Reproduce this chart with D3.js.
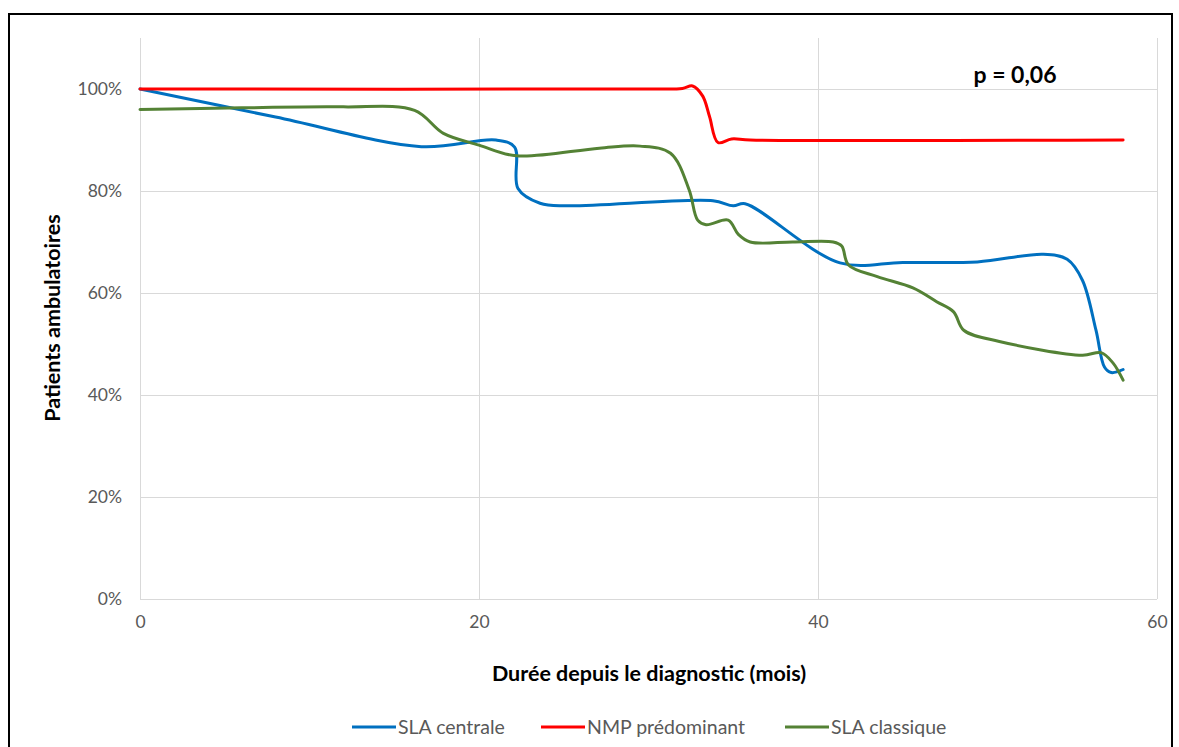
<!DOCTYPE html>
<html><head><meta charset="utf-8">
<script src="https://cdn.jsdelivr.net/npm/d3@7"></script>
<style>body{margin:0;background:#fff}svg{display:block;font-family:Lato,"Open Sans",sans-serif}</style>
</head><body><svg id="c" width="1179" height="747"></svg>
<script>
const seriesNames = ["SLA centrale", "NMP prédominant", "SLA classique"];
const seriesColors = ["#0070C0", "#FF0000", "#548235"];
const xTicks = [0, 20, 40, 60];
const yTicks = [0, 0.2, 0.4, 0.6, 0.8, 1.0];
const pLabel = "p = 0,06";
const xTitle = "Durée depuis le diagnostic (mois)";
const yTitle = "Patients ambulatoires";

const slaCentraleX = [0, 8, 16.6, 21, 22.1, 22.3, 23.6, 25.2, 33.8, 35, 35.7, 41.3, 45, 49.4, 53.3, 54.7, 55.6, 56.4, 56.9, 57.3, 58];
const slaCentraleY = [1.00, 0.945, 0.887, 0.90, 0.886, 0.805, 0.776, 0.771, 0.781, 0.771, 0.775, 0.659, 0.66, 0.661, 0.676, 0.666, 0.625, 0.527, 0.455, 0.444, 0.45];

const nmpX = [0, 30, 32, 32.6, 33.2, 33.6, 34.1, 34.9, 36, 58];
const nmpY = [1.00, 1.00, 1.001, 1.006, 0.986, 0.946, 0.895, 0.902, 0.90, 0.90];

const slaClassiqueX = [0, 6, 12, 16.2, 17.9, 20, 22.2, 27.1, 29.5, 31.3, 32.4, 32.9, 33.4, 34.7, 35.3, 36, 38.5, 40.9, 41.4, 41.8, 43.5, 45.6, 47, 48, 48.6, 50.7, 55.6, 56.7, 57.4, 58];
const slaClassiqueY = [0.96, 0.963, 0.965, 0.958, 0.913, 0.89, 0.869, 0.884, 0.888, 0.874, 0.802, 0.743, 0.734, 0.743, 0.715, 0.70, 0.70, 0.70, 0.692, 0.655, 0.632, 0.61, 0.583, 0.563, 0.527, 0.505, 0.478, 0.483, 0.463, 0.429];

const seriesX = [slaCentraleX, nmpX, slaClassiqueX];
const seriesY = [slaCentraleY, nmpY, slaClassiqueY];

const svg = d3.select("#c");
svg.append("rect").attr("x", 9).attr("y", 14).attr("width", 1163).attr("height", 760)
  .attr("fill", "none").attr("stroke", "#000").attr("stroke-width", 2);

const L = 140, R = 1157, T = 38, B = 599;
const x = d3.scaleLinear().domain([0, 60]).range([L, R]);
const y = d3.scaleLinear().domain([0, 1.1]).range([B, T]);

const g = svg.append("g");
g.selectAll(".hg").data(yTicks).join("line")
  .attr("x1", L).attr("x2", R).attr("y1", d => Math.round(y(d)) + 0.5).attr("y2", d => Math.round(y(d)) + 0.5)
  .attr("stroke", "#d9d9d9").attr("stroke-width", 1);
g.selectAll(".vg").data(xTicks).join("line")
  .attr("y1", T).attr("y2", B).attr("x1", d => Math.round(x(d)) + 0.5).attr("x2", d => Math.round(x(d)) + 0.5)
  .attr("stroke", "#d9d9d9").attr("stroke-width", 1);

const fmtPct = d3.format(".0%");
const yAxis = d3.axisLeft(y).tickValues(yTicks).tickFormat(fmtPct).tickSize(0).tickPadding(18);
const xAxis = d3.axisBottom(x).tickValues(xTicks).tickFormat(d3.format("d")).tickSize(0).tickPadding(17);
const ya = svg.append("g").attr("transform", `translate(${L},0)`).call(yAxis);
const xa = svg.append("g").attr("transform", `translate(0,${B})`).call(xAxis);
[ya, xa].forEach(a => {
  a.select(".domain").remove();
  a.selectAll("text").attr("fill", "#595959").style("font-size", "17.5px").style("font-family", "Lato, 'Open Sans', sans-serif");
});

const line = d3.line().curve(d3.curveCatmullRom.alpha(0.5));
seriesNames.forEach((name, i) => {
  const pts = seriesX[i].map((v, j) => [x(v), y(seriesY[i][j])]);
  svg.append("path").attr("d", line(pts)).attr("fill", "none")
    .attr("stroke", seriesColors[i]).attr("stroke-width", 3).attr("stroke-linecap", "round").attr("stroke-linejoin", "round");
});

svg.append("text").attr("x", 1015).attr("y", 83).attr("text-anchor", "middle")
  .style("font-size", "23px").style("font-weight", "bold").attr("fill", "#000").text(pLabel);

svg.append("text").attr("x", 649).attr("y", 681).attr("text-anchor", "middle")
  .style("font-size", "21.5px").style("font-weight", "bold").attr("fill", "#000").text(xTitle);
svg.append("text").attr("transform", "translate(60,318) rotate(-90)").attr("text-anchor", "middle")
  .style("font-size", "21.5px").style("font-weight", "bold").attr("fill", "#000").text(yTitle);

const legX = [352, 541, 785];
const lg = svg.append("g");
seriesNames.forEach((name, i) => {
  lg.append("line").attr("x1", legX[i]).attr("x2", legX[i] + 44).attr("y1", 727).attr("y2", 727)
    .attr("stroke", seriesColors[i]).attr("stroke-width", 3);
  lg.append("text").attr("x", legX[i] + 46).attr("y", 734)
    .style("font-size", "19.5px").attr("fill", "#595959").text(name);
});
</script></body></html>
